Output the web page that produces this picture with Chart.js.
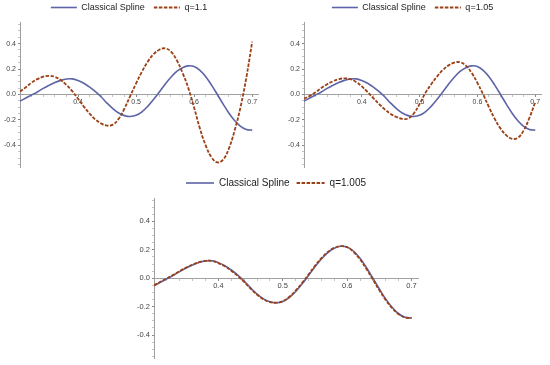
<!DOCTYPE html>
<html><head><meta charset="utf-8">
<script src="https://cdn.jsdelivr.net/npm/chart.js@4"></script>
<style>
html,body{margin:0;padding:0;background:#fff;}
body{width:550px;height:365px;position:relative;overflow:hidden;}
.p{position:absolute;}
</style></head><body>
<div class="p" style="left:0px;top:0px;width:275px;height:175px"><canvas id="c1"></canvas></div>
<div class="p" style="left:284px;top:0px;width:266px;height:175px"><canvas id="c2"></canvas></div>
<div class="p" style="left:134px;top:170px;width:300px;height:195px"><canvas id="c3"></canvas></div>
<script>
// ---- data ----
const xValues = [0.30,0.31,0.32,0.33,0.34,0.35,0.36,0.37,0.38,0.39,0.40,0.41,0.42,0.43,0.44,0.45,0.46,0.47,0.48,0.49,0.50,0.51,0.52,0.53,0.54,0.55,0.56,0.57,0.58,0.59,0.60,0.61,0.62,0.63,0.64,0.65,0.66,0.67,0.68,0.69,0.70];
const classicalSpline = [-0.052,-0.028,-0.004,0.020,0.048,0.072,0.094,0.111,0.122,0.123,0.110,0.088,0.058,0.022,-0.020,-0.068,-0.111,-0.145,-0.166,-0.173,-0.164,-0.136,-0.093,-0.040,0.019,0.081,0.136,0.181,0.211,0.225,0.220,0.190,0.140,0.074,0.000,-0.076,-0.147,-0.206,-0.250,-0.275,-0.280];
const q1_1 = [0.024,0.057,0.093,0.121,0.140,0.147,0.139,0.114,0.075,0.026,-0.033,-0.095,-0.151,-0.197,-0.228,-0.244,-0.237,-0.191,-0.110,-0.010,0.088,0.179,0.257,0.316,0.352,0.363,0.337,0.270,0.170,0.050,-0.104,-0.268,-0.402,-0.494,-0.534,-0.512,-0.423,-0.279,-0.097,0.135,0.415];
const q1_05 = [-0.034,-0.011,0.017,0.051,0.081,0.104,0.120,0.127,0.121,0.099,0.064,0.019,-0.029,-0.076,-0.118,-0.153,-0.177,-0.191,-0.189,-0.149,-0.074,0.013,0.080,0.141,0.192,0.229,0.251,0.253,0.227,0.170,0.091,0.000,-0.100,-0.192,-0.268,-0.321,-0.348,-0.340,-0.283,-0.183,-0.060];
const q1_005 = [-0.050,-0.025,-0.001,0.024,0.051,0.075,0.096,0.113,0.123,0.122,0.107,0.084,0.053,0.016,-0.026,-0.073,-0.115,-0.148,-0.168,-0.172,-0.161,-0.131,-0.087,-0.033,0.026,0.087,0.141,0.185,0.214,0.226,0.218,0.185,0.133,0.065,-0.009,-0.085,-0.154,-0.211,-0.253,-0.277,-0.280];
const seriesNames = ['Classical Spline','q=1.1','q=1.05','q=1.005'];
const xTickValues = [0.4,0.5,0.6,0.7];
const xTickLabels = ['0.4','0.5','0.6','0.7'];
const yTickValues = [-0.4,-0.2,0,0.2,0.4];
const yTickLabels = ['-0.4','-0.2','0.0','0.2','0.4'];
const xMinorTicks = [0.32,0.34,0.36,0.38,0.40,0.42,0.44,0.46,0.48,0.50,0.52,0.54,0.56,0.58,0.60,0.62,0.64,0.66,0.68,0.70];
const yMinorTicks = [-0.55,-0.5,-0.45,-0.4,-0.35,-0.3,-0.25,-0.2,-0.15,-0.1,-0.05,0,0.05,0.1,0.15,0.2,0.25,0.3,0.35,0.4,0.45,0.5,0.55];

const FAMILY = "'Liberation Sans', Arial, sans-serif";
const BLUE = '#5d64a8';
const RED = '#9c4016';

function pts(ys){ return xValues.map((x,i)=>({x:x, y:ys[i]})); }
function lab(v, vals, labels){
  for (let i=0;i<vals.length;i++) if (Math.abs(vals[i]-v)<1e-6) return labels[i];
  return '';
}
function isMaj(v, vals){ return vals.some(t=>Math.abs(t-v)<1e-6); }

function legendItems(chart){
  const items = Chart.defaults.plugins.legend.labels.generateLabels(chart);
  items.forEach(it=>{
    const ds = chart.data.datasets[it.datasetIndex];
    it.lineDash = ds.borderDash || [];
    it.lineWidth = ds.borderWidth;
    it.strokeStyle = ds.borderColor;
  });
  return items;
}

function makeChart(id, qData, qName, o){
  return new Chart(document.getElementById(id), {
    type:'line',
    data:{datasets:[
      {label:seriesNames[0], data:pts(classicalSpline), borderColor:BLUE, backgroundColor:BLUE, borderWidth:1.6, pointRadius:0, tension:0.4, order:1, pointStyle:'line'},
      {label:qName, data:pts(qData), borderColor:RED, backgroundColor:RED, borderWidth:1.8, borderDash:[3.5,1.5], pointRadius:0, tension:0.4, order:0, pointStyle:'line'}
    ]},
    options:{
      responsive:true, maintainAspectRatio:false, animation:false, devicePixelRatio:1,
      layout:{padding:o.padding},
      plugins:{
        tooltip:{enabled:false},
        legend:{display:true, position:'top', align:'center',
          labels:{usePointStyle:true, pointStyle:'line', pointStyleWidth:o.sw, padding:o.lpad, color:'#222',
            font:{family:FAMILY, size:o.fs}, generateLabels:legendItems,
            sort:(a,b)=>a.datasetIndex-b.datasetIndex}}
      },
      scales:{
        x:{type:'linear', min:0.3, max:0.71, position:{y:0},
          afterBuildTicks:s=>{ s.ticks = xMinorTicks.map(v=>({value:v})); },
          ticks:{autoSkip:false, maxRotation:0, padding:1, color:'#444', font:{family:FAMILY,size:o.tfs},
            callback:v=>lab(v,xTickValues,xTickLabels)},
          grid:{drawOnChartArea:false, drawTicks:true, tickLength:2, tickColor:c=> isMaj(c.tick.value,xTickValues)?'#888':'#c4c4c4'},
          border:{display:true, color:'#a0a0a0', width:1}
        },
        y:{type:'linear', min:-o.ym, max:o.ym, position:'left',
          afterFit:s=>{ s.width = 20; },
          afterBuildTicks:s=>{ s.ticks = yMinorTicks.map(v=>({value:v})); },
          ticks:{autoSkip:false, padding:2, color:'#444', font:{family:FAMILY,size:o.tfs},
            callback:v=>lab(v,yTickValues,yTickLabels)},
          grid:{drawOnChartArea:false, drawTicks:true, tickLength:2, tickColor:c=> isMaj(c.tick.value,yTickValues)?'#888':'#c4c4c4'},
          border:{display:true, color:'#a0a0a0', width:1}
        }
      }
    }
  });
}

makeChart('c1', q1_1, seriesNames[1], {padding:{left:0,right:17,top:-6,bottom:8}, sw:26, lpad:9, fs:9, tfs:7, ym:0.57});
makeChart('c2', q1_05, seriesNames[2], {padding:{left:0,right:9,top:-6,bottom:8}, sw:26, lpad:9, fs:9, tfs:7, ym:0.57});
makeChart('c3', q1_005, seriesNames[3], {padding:{left:0,right:16,top:1,bottom:6}, sw:28, lpad:7, fs:10, tfs:7.5, ym:0.565});
</script>
</body></html>
